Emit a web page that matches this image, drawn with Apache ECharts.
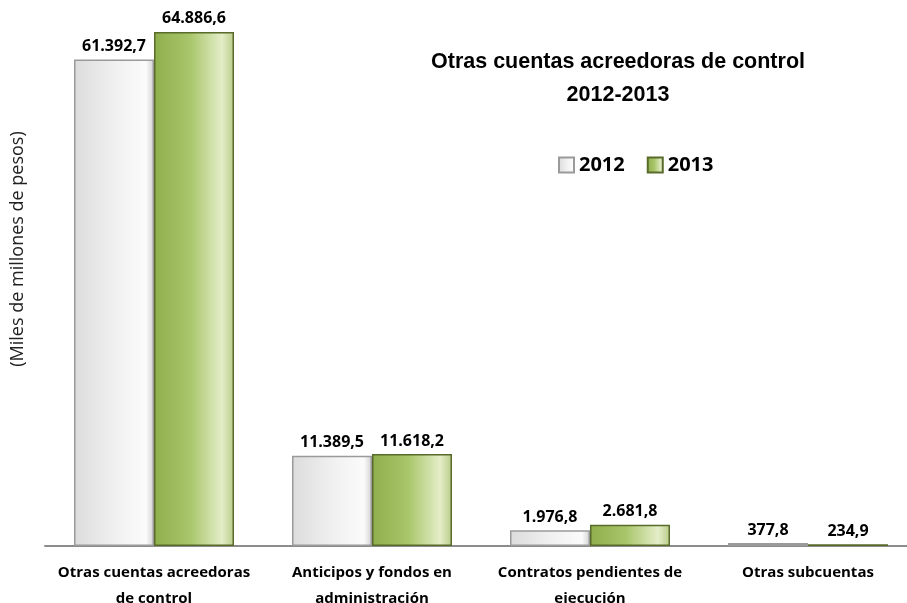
<!DOCTYPE html>
<html>
<head>
<meta charset="utf-8">
<script src="https://cdn.jsdelivr.net/npm/echarts@6/dist/echarts.min.js"></script>
<style>
  html, body { margin: 0; padding: 0; background: #fff; }
  #chart { width: 907px; height: 603px; }
</style>
</head>
<body>
<div id="chart"></div>
<script>
var categories = [
  'Otras cuentas acreedoras\nde control',
  'Anticipos y fondos en\nadministración',
  'Contratos pendientes de\nejecución',
  'Otras subcuentas'
]
var years = ['2012', '2013']
var values2012 = [61392.7, 11389.5, 1976.8, 377.8]
var values2013 = [64886.6, 11618.2, 2681.8, 234.9]

// formato 61.392,7
function fmt (v) {
  var parts = v.toFixed(1).split('.')
  var ent = parts[0].replace(/\B(?=(\d{3})+(?!\d))/g, '.')
  return ent + ',' + parts[1]
}

var chartDom = document.getElementById('chart')
var myChart = echarts.init(chartDom)
var option

var labelStyle = {
  show: true,
  position: 'top',
  distance: 5,
  fontFamily: 'Open Sans',
  fontWeight: 'bold',
  fontSize: 16,
  color: '#000',
  formatter: function (p) { return fmt(p.value) }
}

option = {
  animation: false,
  backgroundColor: '#fff',
  title: {
    text: 'Otras cuentas acreedoras de control\n2012-2013',
    left: 613,
    top: 41,
    textAlign: 'center',
    textStyle: {
      fontFamily: 'Liberation Sans',
      fontWeight: 'bold',
      fontSize: 21.5,
      lineHeight: 33,
      color: '#000'
    }
  },
  graphic: [
    {
      type: 'text',
      x: 18,
      y: 249,
      rotation: Math.PI / 2,
      style: {
        text: '(Miles de millones de pesos)',
        fontFamily: 'Open Sans',
        fontSize: 18,
        fill: '#222',
        align: 'center',
        verticalAlign: 'middle'
      }
    }
  ],
  legend: {
    data: years,
    left: 553,
    top: 150,
    icon: 'rect',
    itemWidth: 15,
    itemHeight: 15,
    itemGap: 22,
    textStyle: {
      fontFamily: 'Open Sans',
      fontWeight: 'bold',
      fontSize: 20,
      color: '#000'
    }
  },
  grid: {
    left: 45,
    right: -10,
    top: 31,
    bottom: 57,
    outerBoundsMode: 'none'
  },
  xAxis: {
    type: 'category',
    data: categories,
    axisLine: { lineStyle: { color: '#8c8c8c', width: 2 } },
    axisTick: { show: false },
    axisLabel: {
      margin: 14,
      interval: 0,
      fontFamily: 'Open Sans',
      fontWeight: 'bold',
      fontSize: 15,
      lineHeight: 26,
      color: '#000'
    }
  },
  yAxis: {
    type: 'value',
    min: 0,
    max: 65000,
    axisLine: { show: false },
    axisTick: { show: false },
    axisLabel: { show: false },
    splitLine: { show: false }
  },
  series: [
    {
      name: '2012',
      type: 'bar',
      barWidth: 80,
      barGap: '0%',
      data: values2012,
      itemStyle: {
        color: new echarts.graphic.LinearGradient(0, 0, 1, 0, [
          { offset: 0, color: '#dcdcdc' },
          { offset: 0.5, color: '#f0f0f0' },
          { offset: 0.9, color: '#fbfbfb' },
          { offset: 1, color: '#d0d0d0' }
        ]),
        borderColor: '#9a9a9a',
        borderWidth: 1.5
      },
      label: labelStyle
    },
    {
      name: '2013',
      type: 'bar',
      barWidth: 80,
      data: values2013,
      itemStyle: {
        color: new echarts.graphic.LinearGradient(0, 0, 1, 0, [
          { offset: 0, color: '#8fae4c' },
          { offset: 0.45, color: '#a8c66a' },
          { offset: 0.85, color: '#e4edc8' },
          { offset: 1, color: '#b9cc88' }
        ]),
        borderColor: '#586b2a',
        borderWidth: 1.5
      },
      label: labelStyle
    }
  ]
}

option && myChart.setOption(option)
</script>
</body>
</html>
